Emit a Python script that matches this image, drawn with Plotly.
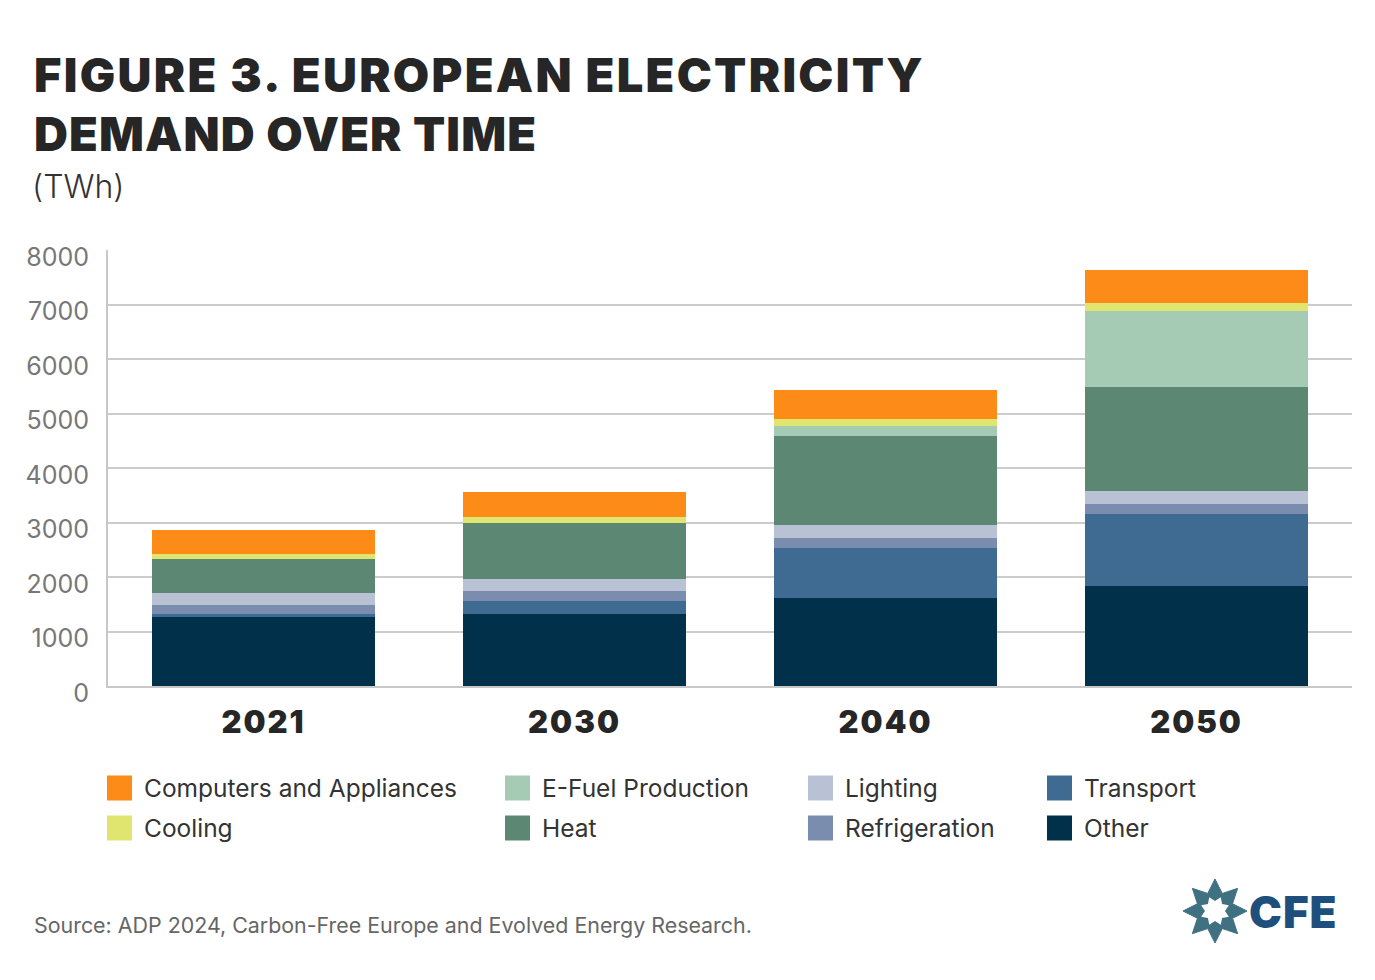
import plotly.graph_objects as go
import math

# ---------------- data ----------------
years = ["2021", "2030", "2040", "2050"]
other = [1270, 1315, 1610, 1835]
transport = [60, 250, 930, 1320]
refrigeration = [160, 175, 180, 185]
lighting = [220, 225, 230, 240]
heat = [620, 1030, 1630, 1915]
efuel = [0, 0, 195, 1390]
cooling = [85, 110, 120, 140]
computers = [445, 460, 530, 610]

y_ticks = [0, 1000, 2000, 3000, 4000, 5000, 6000, 7000, 8000]

# stacking order bottom -> top
series = [
    ("Other", other, "#01304a"),
    ("Transport", transport, "#3f6b92"),
    ("Refrigeration", refrigeration, "#7a8dae"),
    ("Lighting", lighting, "#b9c2d4"),
    ("Heat", heat, "#5c8873"),
    ("E-Fuel Production", efuel, "#a6cbb5"),
    ("Cooling", cooling, "#dfe56e"),
    ("Computers and Appliances", computers, "#fd8b17"),
]

# legend layout (columns of two)
legend_columns = [
    ["Computers and Appliances", "Cooling"],
    ["E-Fuel Production", "Heat"],
    ["Lighting", "Refrigeration"],
    ["Transport", "Other"],
]

W, H = 1375, 980
L, R, T, B = 108, 23, 250, 294
PW, PH = W - L - R, H - T - B


def px(x, y):
    return (x - L) / PW, (H - B - y) / PH


def spaced(s, ls):
    return f'<span style="letter-spacing:{ls}px">{s}</span>'


fig = go.Figure()
for name, vals, color in series:
    fig.add_trace(go.Bar(
        x=years, y=vals, name=name,
        marker=dict(color=color, line=dict(width=0)),
        showlegend=False,
    ))

annotations = []
shapes = []

# title
for text, yy, ls in [("FIGURE 3. EUROPEAN ELECTRICITY", 74, 2.3), ("DEMAND OVER TIME", 133, 1.1)]:
    tx, ty = px(32, yy)
    annotations.append(dict(text=spaced(text, ls), x=tx, y=ty, xref="paper", yref="paper",
                            xanchor="left", yanchor="middle", showarrow=False,
                            font=dict(family="Inter", size=47, color="#262626", weight=900)))
tx, ty = px(30, 187)
annotations.append(dict(text="(TWh)", x=tx, y=ty, xref="paper", yref="paper",
                        xanchor="left", yanchor="middle", showarrow=False,
                        font=dict(family="Inter", size=32, color="#333333", weight=300)))

# source
tx, ty = px(32, 925)
annotations.append(dict(text="Source: ADP 2024, Carbon-Free Europe and Evolved Energy Research.",
                        x=tx, y=ty, xref="paper", yref="paper",
                        xanchor="left", yanchor="middle", showarrow=False,
                        font=dict(family="Inter", size=21.4, color="#666666")))

# legend (manual, large swatches)
color_of = {n: c for n, _, c in series}
col_x = [107, 505, 808, 1047]
row_y = [788, 828]
for cx, names in zip(col_x, legend_columns):
    for ry, n in zip(row_y, names):
        x0, y0 = px(cx, ry - 12.5)
        x1, y1 = px(cx + 25, ry + 12.5)
        shapes.append(dict(type="rect", xref="paper", yref="paper", x0=x0, x1=x1, y0=y1, y1=y0,
                           fillcolor=color_of[n], line=dict(width=0)))
        tx, ty = px(cx + 35, ry)
        annotations.append(dict(text=n, x=tx, y=ty, xref="paper", yref="paper",
                                xanchor="left", yanchor="middle", showarrow=False,
                                font=dict(family="Inter", size=24.5, color="#333333")))

# logo: star icon + CFE
def star_path(cx, cy, r_out, r_in, n=8, rot=-math.pi / 2):
    pts = []
    for i in range(2 * n):
        r = r_out if i % 2 == 0 else r_in
        a = rot + i * math.pi / n
        pts.append(px(cx + r * math.cos(a), cy + r * math.sin(a)))
    return "M " + " L ".join(f"{x:.5f},{y:.5f}" for x, y in pts) + " Z"

shapes.append(dict(type="path", xref="paper", yref="paper", path=star_path(1215, 911, 32, 19),
                   fillcolor="#3f7182", line=dict(color="#3f7182", width=1)))
shapes.append(dict(type="path", xref="paper", yref="paper", path=star_path(1215, 911, 15, 10, rot=-math.pi / 2 + math.pi / 8),
                   fillcolor="#ffffff", line=dict(width=0)))
tx, ty = px(1247, 912)
annotations.append(dict(text=spaced("CFE", 1), x=tx, y=ty, xref="paper", yref="paper",
                        xanchor="left", yanchor="middle", showarrow=False,
                        font=dict(family="Inter", size=44, color="#1f4f7d", weight=900)))

fig.update_layout(
    width=W, height=H,
    margin=dict(l=L, r=R, t=T, b=B, pad=0),
    barmode="stack", bargap=0.28,
    plot_bgcolor="white", paper_bgcolor="white",
    annotations=annotations, shapes=shapes,
    showlegend=False,
)
fig.update_xaxes(
    showline=True, linecolor="#c8c8c8", linewidth=2,
    showgrid=False, ticks="",
    tickvals=years, ticktext=[spaced(y, 2) for y in years],
    tickfont=dict(family="Inter", size=31, color="#262626", weight=900),
    ticklabelstandoff=8,
)
fig.update_yaxes(
    range=[0, 8000], tickvals=y_ticks,
    showline=True, linecolor="#c8c8c8", linewidth=2,
    showgrid=True, gridcolor="#cccccc", gridwidth=2,
    zeroline=False, ticks="",
    tickfont=dict(family="Inter", size=25, color="#777777"),
    ticklabelstandoff=12, ticklabelshift=7,
)

fig.write_html("out.html")
